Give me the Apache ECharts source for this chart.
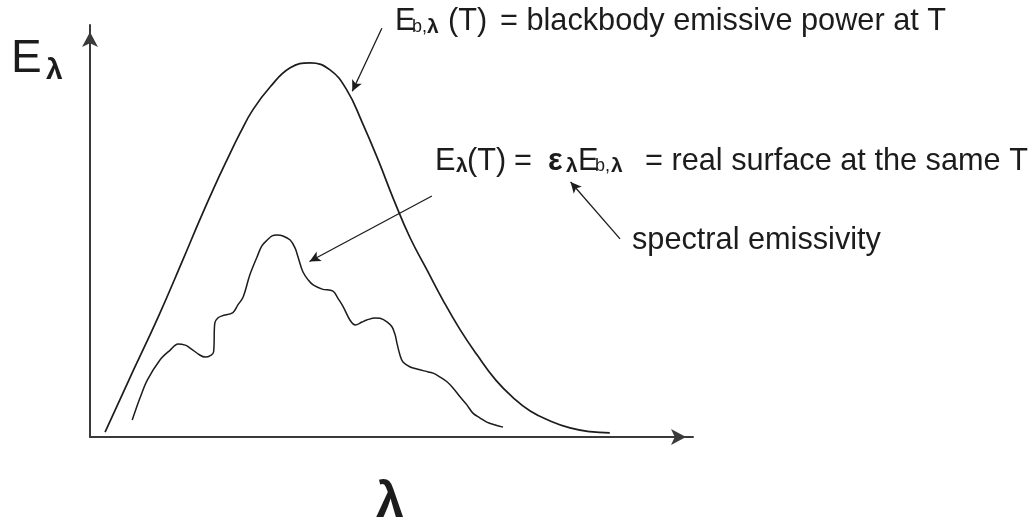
<!DOCTYPE html>
<html>
<head>
<meta charset="utf-8">
<script src="https://cdn.jsdelivr.net/npm/echarts@6.0.0/dist/echarts.min.js"></script>
<style>
  html, body { margin: 0; padding: 0; background: #fff; }
  #chart { width: 1032px; height: 525px; }
</style>
</head>
<body>
<div id="chart"></div>
<script>
// wavelength / emissive power, arbitrary units (0..100)
const blackbodyX = [2.5, 6.6, 11.3, 15.4, 18.2, 20.4, 22.7, 24.9, 27.0, 29.9, 33.2, 36.5, 39.8, 42.6, 45.1, 47.8, 50.4, 53.1, 55.9, 58.5, 61.4, 64.3, 67.3, 70.2, 73.0, 76.3, 79.6, 82.9, 86.2]
const blackbodyY = [1.2, 14.3, 29.1, 43.0, 52.7, 60.0, 67.2, 73.8, 79.4, 85.0, 89.6, 90.8, 89.1, 84.2, 76.5, 67.2, 57.5, 48.3, 40.5, 33.3, 26.0, 19.7, 13.8, 9.5, 6.3, 3.9, 2.2, 1.3, 1.0]

const realX = [7.0, 8.3, 9.5, 11.6, 13.3, 14.6, 15.8, 16.6, 18.2, 19.1, 20.1, 20.5, 20.7, 21.2, 21.9, 23.7, 24.5, 25.4, 26.5, 27.7, 28.5, 29.4, 30.2, 31.0, 32.0, 33.2, 34.0, 34.5, 35.3, 36.2, 37.0, 38.5, 40.3, 41.1, 42.0, 43.1, 44.0, 45.1, 45.9, 47.3, 48.1, 49.3, 50.1, 50.6, 50.9, 51.4, 51.9, 53.1, 54.2, 56.1, 56.9, 58.0, 59.2, 60.2, 61.4, 62.5, 63.5, 64.7, 65.8, 67.2, 68.5]
const realY = [4.1, 9.5, 13.8, 18.7, 21.1, 22.6, 22.3, 21.6, 19.9, 19.4, 19.9, 20.7, 27.7, 28.9, 29.4, 30.2, 32.0, 34.0, 39.3, 43.7, 46.4, 47.8, 48.8, 49.0, 48.8, 47.8, 45.9, 43.7, 40.1, 38.1, 36.9, 35.9, 35.4, 33.7, 31.6, 28.4, 27.2, 27.9, 28.4, 28.9, 28.8, 27.9, 26.7, 24.8, 22.8, 19.9, 18.2, 17.0, 16.5, 15.8, 15.5, 14.6, 13.4, 11.9, 9.7, 7.8, 5.8, 4.6, 3.6, 2.9, 2.4]

// annotation arrows [fromX, fromY, toX, toY] in data units
const arrows = [
  [48.4, 99.2, 43.5, 83.9],
  [56.7, 58.5, 36.4, 42.6],
  [87.9, 48.1, 79.7, 61.9]
]

const ink = '#1c1c1c'
const sans = '"Liberation Sans", Arial, sans-serif'
const fs = 30.7

function pairs(xs, ys) {
  return xs.map((x, i) => [x, ys[i]])
}

function txt(x, y, text, size, bold, align) {
  return {
    type: 'text',
    x: x,
    y: y,
    silent: true,
    style: {
      text: text,
      font: (bold ? 'bold ' : '') + size + 'px ' + sans,
      fill: ink,
      textAlign: align || 'left',
      textVerticalAlign: 'middle'
    }
  }
}

const axisLine = {
  show: true,
  onZero: false,
  symbol: ['none', 'arrow'],
  symbolSize: [12, 15],
  symbolOffset: [0, -7],
  lineStyle: { color: '#3a3a3a', width: 2 }
}

const chart = echarts.init(document.getElementById('chart'))

chart.setOption({
  animation: false,
  backgroundColor: '#fff',
  grid: { left: 90, top: 25, width: 603, height: 412 },
  xAxis: {
    type: 'value',
    min: 0,
    max: 100,
    axisLine: axisLine,
    axisTick: { show: false },
    axisLabel: { show: false },
    splitLine: { show: false }
  },
  yAxis: {
    type: 'value',
    min: 0,
    max: 100,
    axisLine: axisLine,
    axisTick: { show: false },
    axisLabel: { show: false },
    splitLine: { show: false }
  },
  series: [{
    name: 'blackbody',
    type: 'line',
    data: pairs(blackbodyX, blackbodyY),
    smooth: 0.45,
    showSymbol: false,
    clip: false,
    lineStyle: { color: ink, width: 1.7 }
  }, {
    name: 'real surface',
    type: 'line',
    data: pairs(realX, realY),
    smooth: 0.35,
    showSymbol: false,
    clip: false,
    lineStyle: { color: ink, width: 1.5 },
    markLine: {
      silent: true,
      symbol: ['none', 'arrow'],
      symbolSize: [8, 11],
      label: { show: false },
      lineStyle: { color: ink, width: 1.3, type: 'solid' },
      data: arrows.map(a => [{ coord: [a[0], a[1]] }, { coord: [a[2], a[3]] }])
    }
  }],
  graphic: [
    // axis titles
    txt(11, 59, 'E', 46),
    txt(46, 71, 'λ', 30, true),
    txt(390, 503, 'λ', 50, true, 'center'),
    // blackbody label
    txt(395, 21.5, 'E', fs),
    txt(412, 27, 'b,', 18),
    txt(427, 27, 'λ', 21, true),
    txt(448, 21.5, '(T)', fs),
    txt(500, 21.5, '= blackbody emissive power at T', fs),
    // real surface label
    txt(435, 161.5, 'E', fs),
    txt(456, 166, 'λ', 21, true),
    txt(467, 161.5, '(T)', fs),
    txt(514, 161.5, '=', fs),
    txt(548, 161.5, 'ε', fs, true),
    txt(566, 166, 'λ', 21, true),
    txt(578, 161.5, 'E', fs),
    txt(595, 166, 'b,', 18),
    txt(611, 166, 'λ', 21, true),
    txt(645, 161.5, '= real surface at the same T', fs),
    txt(632, 241, 'spectral emissivity', fs)
  ]
})
</script>
</body>
</html>
